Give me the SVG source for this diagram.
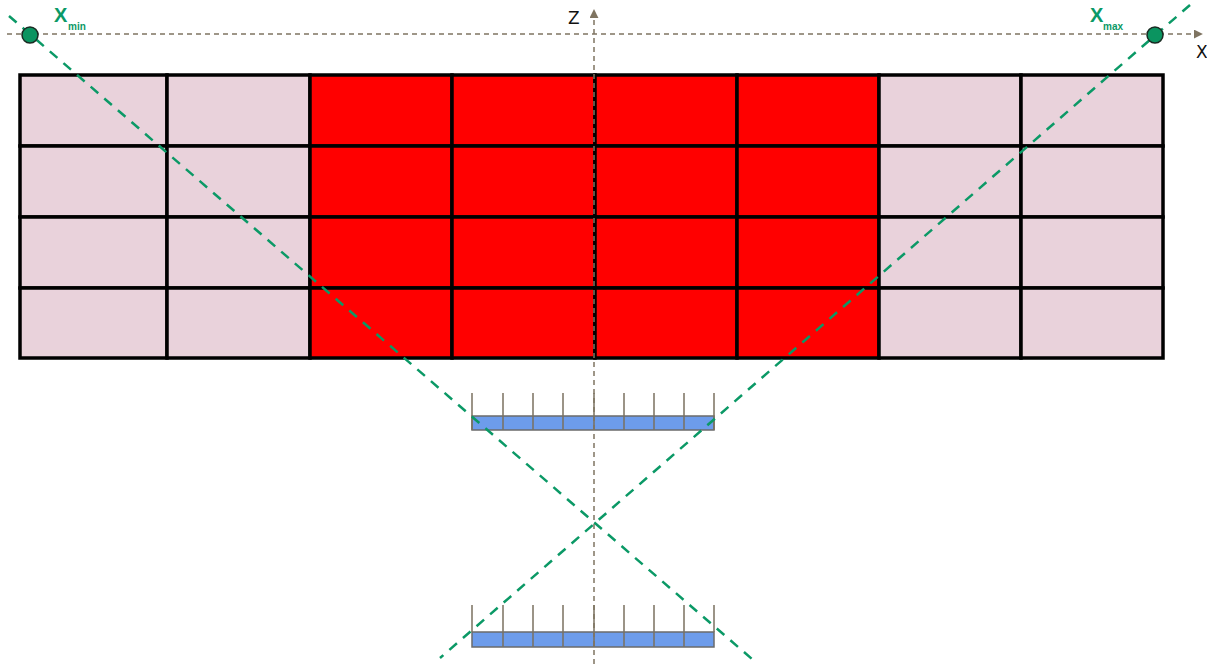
<svg xmlns="http://www.w3.org/2000/svg" width="1207" height="664" viewBox="0 0 1207 664">
<style>
.pink{fill:#e9d2db;stroke:#000;stroke-width:3.5}
.red{fill:#ff0000;stroke:#000;stroke-width:3.5}
.axis{stroke:#7f7461;stroke-width:1.5;stroke-dasharray:5,4;fill:none}
.ray{stroke:#0b9966;stroke-width:2.5;stroke-dasharray:10,8;fill:none}
.bar{fill:#6d9ceb;stroke:#6b6b6b;stroke-width:1.5}
.tick{stroke:#7a705f;stroke-width:1.5}
.pt{fill:#0b9460;stroke:#1a2a22;stroke-width:1.5}
.lbl{fill:#0b9966;font-family:"Liberation Sans",Arial,sans-serif;font-weight:bold}
.ax{fill:#111;font-family:"DejaVu Sans","Liberation Sans",sans-serif;font-size:17px}
</style>
<defs>
<marker id="ah" viewBox="0 0 10 10" refX="9" refY="5" markerWidth="6" markerHeight="6" orient="auto" markerUnits="strokeWidth">
<path d="M0,0 L10,5 L0,10 z" fill="#7f7461"/>
</marker>
</defs>
<g id="grid">
<rect class="pink" x="20" y="75" width="147" height="71"/>
<rect class="pink" x="167" y="75" width="143" height="71"/>
<rect class="pink" x="20" y="146" width="147" height="71"/>
<rect class="pink" x="167" y="146" width="143" height="71"/>
<rect class="pink" x="20" y="217" width="147" height="71"/>
<rect class="pink" x="167" y="217" width="143" height="71"/>
<rect class="pink" x="20" y="288" width="147" height="70"/>
<rect class="pink" x="167" y="288" width="143" height="70"/>
<rect class="red" x="310" y="75" width="142" height="71"/>
<rect class="red" x="452" y="75" width="143" height="71"/>
<rect class="red" x="595" y="75" width="142" height="71"/>
<rect class="red" x="737" y="75" width="142" height="71"/>
<rect class="red" x="310" y="146" width="142" height="71"/>
<rect class="red" x="452" y="146" width="143" height="71"/>
<rect class="red" x="595" y="146" width="142" height="71"/>
<rect class="red" x="737" y="146" width="142" height="71"/>
<rect class="red" x="310" y="217" width="142" height="71"/>
<rect class="red" x="452" y="217" width="143" height="71"/>
<rect class="red" x="595" y="217" width="142" height="71"/>
<rect class="red" x="737" y="217" width="142" height="71"/>
<rect class="red" x="310" y="288" width="142" height="70"/>
<rect class="red" x="452" y="288" width="143" height="70"/>
<rect class="red" x="595" y="288" width="142" height="70"/>
<rect class="red" x="737" y="288" width="142" height="70"/>
<rect class="pink" x="879" y="75" width="142" height="71"/>
<rect class="pink" x="1021" y="75" width="142" height="71"/>
<rect class="pink" x="879" y="146" width="142" height="71"/>
<rect class="pink" x="1021" y="146" width="142" height="71"/>
<rect class="pink" x="879" y="217" width="142" height="71"/>
<rect class="pink" x="1021" y="217" width="142" height="71"/>
<rect class="pink" x="879" y="288" width="142" height="70"/>
<rect class="pink" x="1021" y="288" width="142" height="70"/>
</g>
<g id="detector-top">
<rect class="bar" x="472" y="416" width="242" height="14"/>
<g class="tick">
<line x1="472" y1="393" x2="472" y2="430"/><line x1="503" y1="393" x2="503" y2="430"/><line x1="533" y1="393" x2="533" y2="430"/><line x1="563" y1="393" x2="563" y2="430"/><line x1="594" y1="393" x2="594" y2="430"/><line x1="624" y1="393" x2="624" y2="430"/><line x1="654" y1="393" x2="654" y2="430"/><line x1="684" y1="393" x2="684" y2="430"/><line x1="714" y1="393" x2="714" y2="430"/>
</g>
</g>
<g id="detector-bottom">
<rect class="bar" x="472" y="632" width="242" height="15"/>
<g class="tick">
<line x1="472" y1="605" x2="472" y2="632"/><line x1="503" y1="605" x2="503" y2="647"/><line x1="533" y1="605" x2="533" y2="647"/><line x1="563" y1="605" x2="563" y2="647"/><line x1="594" y1="605" x2="594" y2="647"/><line x1="624" y1="605" x2="624" y2="647"/><line x1="654" y1="605" x2="654" y2="647"/><line x1="684" y1="605" x2="684" y2="647"/><line x1="714" y1="605" x2="714" y2="632"/>
</g>
</g>
<g id="connectors">
<line class="axis" x1="7" y1="34" x2="1202" y2="34" marker-end="url(#ah)"/>
<line class="axis" x1="594" y1="664" x2="594" y2="10" marker-end="url(#ah)"/>
<line class="ray" x1="9" y1="16" x2="752" y2="659"/>
<line class="ray" x1="1190" y1="5" x2="440" y2="658"/>
</g>
<g id="xmin">
<circle class="pt" cx="30" cy="35" r="8"/>
<text class="lbl" x="54" y="22" font-size="20">X</text>
<text class="lbl" x="68" y="30" font-size="10">min</text>
</g>
<g id="xmax">
<circle class="pt" cx="1155" cy="35" r="8"/>
<text class="lbl" x="1090" y="22" font-size="20">X</text>
<text class="lbl" x="1103" y="30" font-size="10">max</text>
</g>
<g id="labels">
<text class="ax" x="568" y="24">Z</text>
<text class="ax" x="1196" y="58">X</text>
</g>
</svg>
